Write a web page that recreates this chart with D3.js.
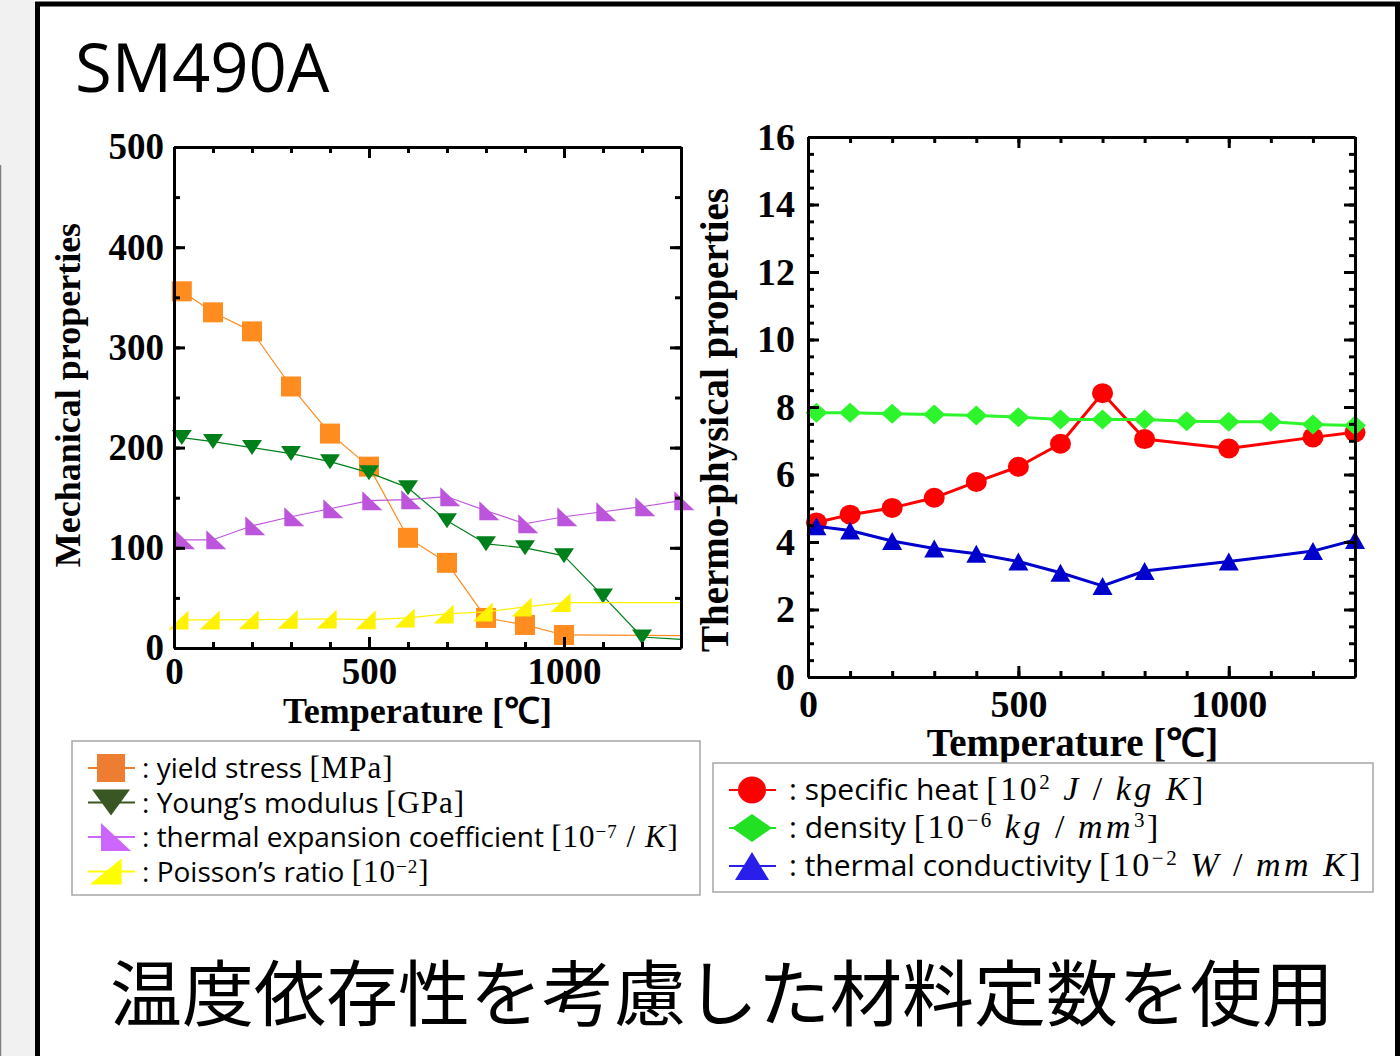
<!DOCTYPE html>
<html>
<head>
<meta charset="utf-8">
<script src="https://cdn.jsdelivr.net/npm/d3@7"></script>
<style>
  body { margin: 0; background: #fff; }
  svg { display: block; }
</style>
</head>
<body>
<svg></svg>
<script>
var width = 1400;
var height = 1056;

// ---- mechanical properties (left panel) ----
var mechTemps = [20, 100, 200, 300, 400, 500, 600, 700, 800, 900, 1000, 1100, 1200, 1300];
var yieldTemps = [20, 100, 200, 300, 400, 500, 600, 700, 800, 900, 1000, 1500];
var yieldStress = [356, 335, 316, 261, 214, 181, 110, 85, 30, 23, 13, 12];
var youngTemps = [20, 100, 200, 300, 400, 500, 600, 700, 800, 900, 1000, 1100, 1200, 1500];
var youngModulus = [210, 206, 200, 194, 186, 175, 160, 127, 104, 100, 92, 52, 11, 4];
var expansionCoef = [108, 108, 122, 131, 139, 147, 148, 151, 137, 124, 131, 136, 141, 147];
var poissonTemps = [20, 100, 200, 300, 400, 500, 600, 700, 800, 900, 1000, 1500];
var poissonRatio = [28, 28, 28.3, 28.7, 29, 28.3, 30, 34, 36, 41, 45.3, 45.3];

// ---- thermo-physical properties (right panel) ----
var thermoTemps = [20, 100, 200, 300, 400, 500, 600, 700, 800, 1000, 1200, 1300];
var specificHeat = [4.58, 4.81, 5.01, 5.31, 5.78, 6.23, 6.91, 8.41, 7.05, 6.77, 7.1, 7.25];
var densityTemps = [20, 100, 200, 300, 400, 500, 600, 700, 800, 900, 1000, 1100, 1200, 1300];
var density = [7.83, 7.83, 7.8, 7.78, 7.75, 7.7, 7.63, 7.63, 7.63, 7.58, 7.56, 7.56, 7.48, 7.45];
var conductivity = [4.47, 4.34, 4.03, 3.81, 3.65, 3.42, 3.09, 2.7, 3.14, 3.42, 3.73, 4.06];

var tempTicks = [0, 500, 1000];
var mechTicks = [0, 100, 200, 300, 400, 500];
var thermoTicks = [0, 2, 4, 6, 8, 10, 12, 14, 16];

var mechLabels = [
  "yield stress [MPa]",
  "Young’s modulus [GPa]",
  "thermal expansion coefficient [10^{−7} / $K$]",
  "Poisson’s ratio [10^{−2}]"
];
var thermoLabels = [
  "specific heat [10^{2} $J$ / $kg$ $K$]",
  "density [10^{−6} $kg$ / $mm$^{3}]",
  "thermal conductivity [10^{−2} $W$ / $mm$ $K$]"
];

var serif = "'Liberation Serif', 'Times New Roman', serif";
var sans = "'Open Sans', 'Noto Sans', sans-serif";

var svg = d3.select("svg").attr("width", width).attr("height", height);

// slide background + frame
svg.append("rect").attr("width", width).attr("height", height).attr("fill", "#fff");
svg.append("rect").attr("width", 35).attr("height", height).attr("fill", "#f1f1f1");
svg.append("line").attr("x1", 0.5).attr("x2", 0.5).attr("y1", 165).attr("y2", height)
  .attr("stroke", "#808080").attr("stroke-width", 1.5);
svg.append("rect").attr("x", 37.5).attr("y", 4).attr("width", 1360).attr("height", 1100)
  .attr("fill", "none").attr("stroke", "#000").attr("stroke-width", 5);

svg.append("text").attr("x", 75).attr("y", 92)
  .style("font-family", sans).style("font-size", "67px").text("SM490A");

svg.append("text").attr("x", 722).attr("y", 1020).attr("text-anchor", "middle")
  .style("font-family", "'Noto Sans CJK JP', sans-serif").style("font-size", "72px")
  .text("温度依存性を考慮した材料定数を使用");

// marker shapes, all centred on the data point
var shapes = {
  square: s => `M${-s},${-s}H${s}V${s}H${-s}Z`,
  down: (s, h) => `M${-s},${-h}H${s}L0,${h}Z`,
  up: (s, h) => `M${-s},${h}H${s}L0,${-h}Z`,
  lowerLeft: (s, h) => `M${-s * 2 / 3},${-h}V${h}H${s * 4 / 3}Z`,
  lowerRight: (s, h) => `M${s * 2 / 3},${-h}V${h}H${-s * 4 / 3}Z`,
  diamond: (s, h) => `M${-s},0L0,${-h}L${s},0L0,${h}Z`,
  circle: (s, h) => `M${-s},0A${s},${h} 0 1,0 ${s},0A${s},${h} 0 1,0 ${-s},0Z`
};

function drawPanel(p) {
  var g = svg.append("g").attr("transform", `translate(${p.left},${p.top})`);
  var x = d3.scaleLinear().domain([0, 1300]).range([0, p.w]);
  var y = d3.scaleLinear().domain(p.yDomain).range([p.h, 0]);

  var clipId = "clip" + p.left;
  g.append("clipPath").attr("id", clipId).append("rect").attr("width", p.w).attr("height", p.h);

  // series
  p.series.forEach(function (s) {
    var pts = s.xs.map((t, i) => [t, s.ys[i]]);
    g.append("path")
      .datum(pts)
      .attr("clip-path", `url(#${clipId})`)
      .attr("fill", "none")
      .attr("stroke", s.color)
      .attr("stroke-width", p.lineWidth)
      .attr("stroke-linejoin", "round")
      .attr("d", d3.line().x(d => x(d[0])).y(d => y(d[1])));
    g.selectAll(null)
      .data(pts.filter(d => d[0] <= 1300))
      .enter()
      .append("path")
        .attr("transform", d => `translate(${x(d[0])},${y(d[1])})`)
        .attr("d", shapes[s.shape](s.sx, s.sy))
        .attr("fill", s.color);
  });

  // axes with inward ticks on all four sides
  var xMinor = d3.range(0, 1301, 100);
  var yMinor = d3.range(p.yDomain[0], p.yDomain[1] + 0.001, p.yMinor);
  function addAxis(axis, tx, ty, values, size, labels) {
    var a = g.append("g").attr("transform", `translate(${tx},${ty})`)
      .call(axis.tickValues(values).tickSizeInner(-size).tickSizeOuter(0)
        .tickPadding(p.pad).tickFormat(labels ? d3.format("d") : ""));
    a.select(".domain").attr("stroke-width", 3);
    a.selectAll(".tick line").attr("stroke-width", 3);
    a.selectAll("text").style("font-family", serif).style("font-weight", "bold")
      .style("font-size", p.tickFont + "px").attr("fill", "#000");
    return a;
  }
  addAxis(d3.axisBottom(x), 0, p.h, xMinor, 6, false);
  addAxis(d3.axisTop(x), 0, 0, xMinor, 6, false);
  addAxis(d3.axisBottom(x), 0, p.h, tempTicks, 11, true).select(".domain").remove();
  addAxis(d3.axisTop(x), 0, 0, tempTicks, 11, false).select(".domain").remove();
  addAxis(d3.axisLeft(y), 0, 0, yMinor, 6, false);
  addAxis(d3.axisRight(y), p.w, 0, yMinor, 6, false);
  addAxis(d3.axisLeft(y), 0, 0, p.yTicks, 11, true).select(".domain").remove();
  addAxis(d3.axisRight(y), p.w, 0, p.yTicks, 11, false).select(".domain").remove();

  // titles
  g.append("text")
    .attr("x", p.w / 2 + p.xTitleDx).attr("y", p.h + p.xTitleDy)
    .attr("text-anchor", "middle")
    .style("font-family", serif).style("font-weight", "bold").style("font-size", p.titleFont + "px")
    .text("Temperature [℃]");
  g.append("text")
    .attr("transform", `translate(${p.yTitleX},${p.yTitleY}) rotate(-90)`)
    .attr("text-anchor", "middle")
    .style("font-family", serif).style("font-weight", "bold").style("font-size", p.titleFont + "px")
    .text(p.yTitle);
}

drawPanel({
  left: 174, top: 147, w: 507, h: 501,
  yDomain: [0, 500], yTicks: mechTicks, yMinor: 50,
  tickFont: 37, pad: 10, lineWidth: 1.2, titleFont: 36,
  xTitleDx: -10, xTitleDy: 75,
  yTitleX: -94, yTitleY: 248, yTitle: "Mechanical properties",
  series: [
    { xs: yieldTemps, ys: yieldStress, color: "#ff8c1e", shape: "square", sx: 10, sy: 10 },
    { xs: youngTemps, ys: youngModulus, color: "#00801a", shape: "down", sx: 10, sy: 7.5 },
    { xs: mechTemps, ys: expansionCoef, color: "#bd55dc", shape: "lowerLeft", sx: 10, sy: 9.5 },
    { xs: poissonTemps, ys: poissonRatio, color: "#fff200", shape: "lowerRight", sx: 10, sy: 9.5 }
  ]
});

drawPanel({
  left: 808, top: 137, w: 547, h: 540,
  yDomain: [0, 16], yTicks: thermoTicks, yMinor: 0.5,
  tickFont: 38, pad: 13, lineWidth: 3, titleFont: 39,
  xTitleDx: -9, xTitleDy: 79,
  yTitleX: -80, yTitleY: 283, yTitle: "Thermo-physical properties",
  series: [
    { xs: thermoTemps, ys: specificHeat, color: "#ff0000", shape: "circle", sx: 10.5, sy: 10 },
    { xs: densityTemps, ys: density, color: "#2cf52c", shape: "diamond", sx: 11, sy: 10 },
    { xs: thermoTemps, ys: conductivity, color: "#0000cd", shape: "up", sx: 10, sy: 9 }
  ]
});

// legends: the bracketed unit is set like an equation (serif, italic symbols)
function addLabel(text, str, box) {
  var cut = str.indexOf("[");
  text.append("tspan").style("font-family", sans).text(": " + str.slice(0, cut));
  var raised = false;
  str.slice(cut).split(/(\^\{[^}]*\}|\$[^$]*\$)/).filter(s => s).forEach(function (s) {
    var t = text.append("tspan").style("font-family", serif)
      .style("font-size", box.mathFont + "px").attr("letter-spacing", box.mathSpacing);
    if (s[0] === "^") {
      t.text(s.slice(2, -1)).style("font-size", box.supFont + "px").attr("dy", -box.raise);
      raised = true;
      return;
    }
    if (raised) { t.attr("dy", box.raise); raised = false; }
    if (s[0] === "$") {
      t.style("font-style", "italic").attr("letter-spacing", box.mathSpacing + 1).text(s.slice(1, -1));
    } else {
      t.text(s);
    }
  });
}

function drawLegend(box, rows) {
  var g = svg.append("g");
  g.append("rect").attr("x", box.x).attr("y", box.y).attr("width", box.w).attr("height", box.h)
    .attr("fill", "#fff").attr("stroke", "#a6a6a6").attr("stroke-width", 1.5);
  rows.forEach(function (r, i) {
    var cy = box.y + box.first + i * box.step;
    g.append("line").attr("x1", box.x + 16).attr("x2", box.x + 63).attr("y1", cy).attr("y2", cy)
      .attr("stroke", r.color).attr("stroke-width", 2);
    g.append("path").attr("transform", `translate(${box.x + 39},${cy})`)
      .attr("d", shapes[r.shape](r.sx, r.sy)).attr("fill", r.color);
    var t = g.append("text").attr("x", box.x + box.textX).attr("y", cy + 10)
      .style("font-size", box.font + "px").attr("fill", "#000");
    addLabel(t, r.label, box);
  });
}

drawLegend({ x: 72, y: 741, w: 628, h: 154, first: 27, step: 34.5, textX: 70,
             font: 28, mathFont: 31, supFont: 19, raise: 9, mathSpacing: 1 }, [
  { label: mechLabels[0], color: "#ed7d31", shape: "square", sx: 14, sy: 13.5 },
  { label: mechLabels[1], color: "#385723", shape: "down", sx: 19, sy: 13 },
  { label: mechLabels[2], color: "#cc66ff", shape: "lowerLeft", sx: 15, sy: 14 },
  { label: mechLabels[3], color: "#ffff00", shape: "lowerRight", sx: 16, sy: 13 }
]);

drawLegend({ x: 713, y: 763, w: 660, h: 129, first: 27, step: 38, textX: 76,
             font: 30, mathFont: 34, supFont: 21, raise: 11, mathSpacing: 2.5 }, [
  { label: thermoLabels[0], color: "#ff0000", shape: "circle", sx: 14, sy: 13.5 },
  { label: thermoLabels[1], color: "#22e022", shape: "diamond", sx: 20, sy: 14 },
  { label: thermoLabels[2], color: "#2a1fe8", shape: "up", sx: 17, sy: 14 }
]);
</script>
</body>
</html>
